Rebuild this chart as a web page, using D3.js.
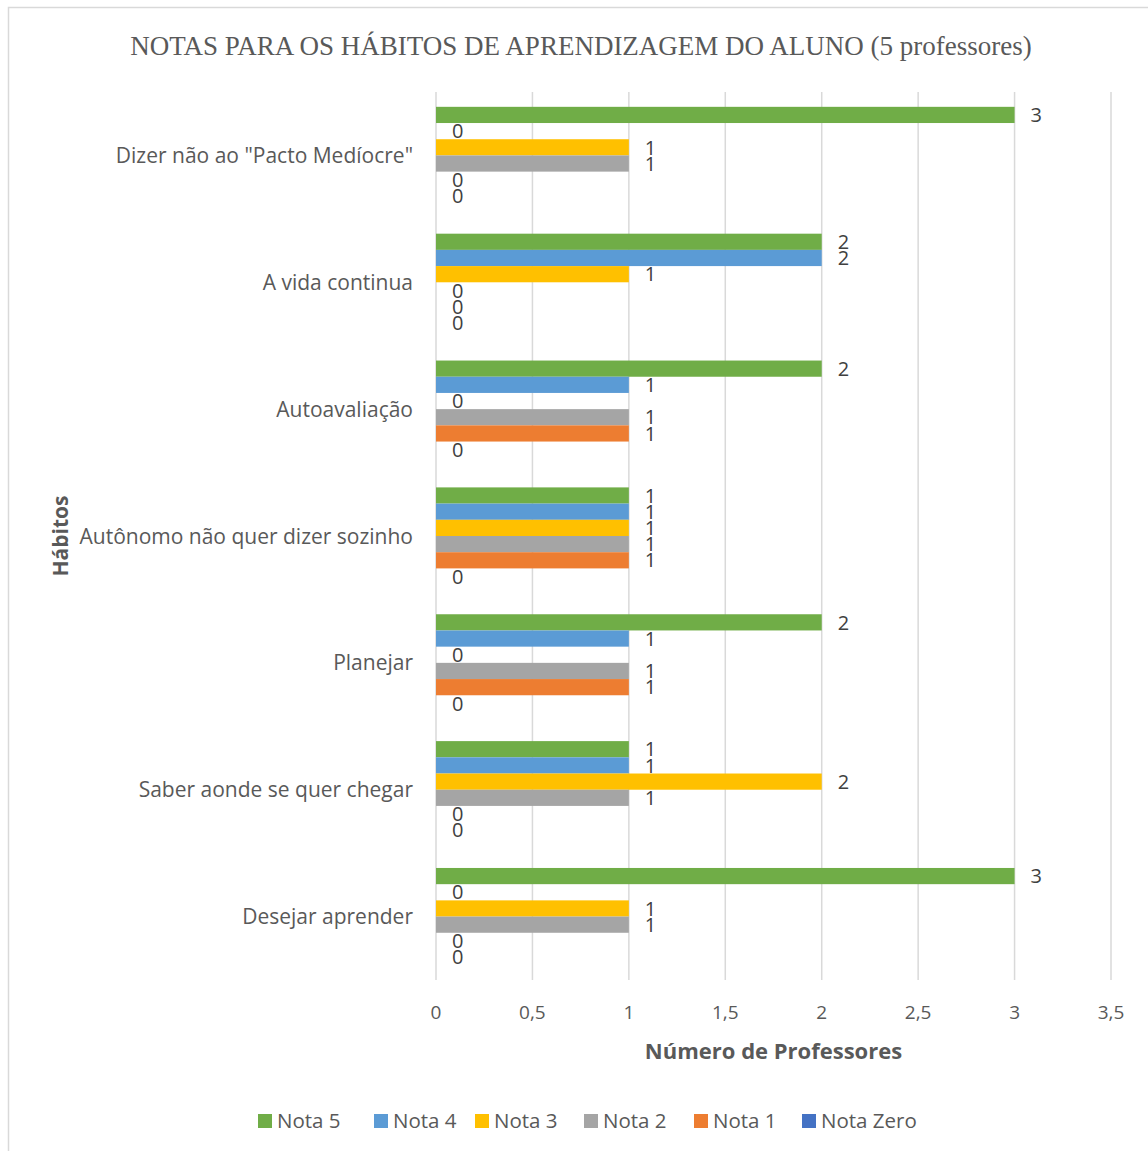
<!DOCTYPE html>
<html>
<head>
<meta charset="utf-8">
<script src="https://cdn.jsdelivr.net/npm/d3@7"></script>
<style>
  body { margin: 0; background: #fff; }
  svg { display: block; }
  text { font-family: "Open Sans", sans-serif; fill: #595959; }
</style>
</head>
<body>
<svg id="chart"></svg>
<script>
const categories = [
  'Dizer não ao "Pacto Medíocre"',
  'A vida continua',
  'Autoavaliação',
  'Autônomo não quer dizer sozinho',
  'Planejar',
  'Saber aonde se quer chegar',
  'Desejar aprender',
];
const seriesNames = ['Nota 5', 'Nota 4', 'Nota 3', 'Nota 2', 'Nota 1', 'Nota Zero'];
const seriesColors = ['#70AD47', '#5B9BD5', '#FFC000', '#A5A5A5', '#ED7D31', '#4472C4'];
const nota5 = [3, 2, 2, 1, 2, 1, 3];
const nota4 = [0, 2, 1, 1, 1, 1, 0];
const nota3 = [1, 1, 0, 1, 0, 2, 1];
const nota2 = [1, 0, 1, 1, 1, 1, 1];
const nota1 = [0, 0, 1, 1, 1, 0, 0];
const notaZero = [0, 0, 0, 0, 0, 0, 0];
const xTicks = [0, 0.5, 1, 1.5, 2, 2.5, 3, 3.5];

const WIDTH = 1148;
const HEIGHT = 1151;
const PLOT = {left: 436, right: 1111, top: 92, bottom: 980};

const seriesValues = [nota5, nota4, nota3, nota2, nota1, notaZero];
const rows = categories.map((cat, i) => ({
  category: cat,
  values: seriesNames.map((name, j) => ({name: name, value: seriesValues[j][i], color: seriesColors[j]})),
}));

const svg = d3.select('#chart').attr('width', WIDTH).attr('height', HEIGHT);

// chart border (only left/top visible in the reference)
svg.append('path')
  .attr('d', `M8.5,${HEIGHT} V7.5 H${WIDTH}`)
  .attr('fill', 'none')
  .attr('stroke', '#D9D9D9')
  .attr('stroke-width', 1.5);

const x = d3.scaleLinear().domain([0, 3.5]).range([PLOT.left, PLOT.right]);
const y = d3.scaleBand().domain(categories).range([PLOT.top, PLOT.bottom]).paddingInner(0).paddingOuter(0);
const inner = d3.scaleBand().domain(seriesNames).range([0, y.bandwidth()]).paddingOuter(0.915).paddingInner(0);

// grid
svg.append('g')
  .selectAll('line')
  .data(xTicks)
  .join('line')
  .attr('x1', (d) => x(d))
  .attr('x2', (d) => x(d))
  .attr('y1', PLOT.top)
  .attr('y2', PLOT.bottom)
  .attr('stroke', '#D9D9D9')
  .attr('stroke-width', 1.5);

// bars
const groups = svg.append('g')
  .selectAll('g')
  .data(rows)
  .join('g')
  .attr('transform', (d) => `translate(0,${y(d.category)})`);

groups.selectAll('rect')
  .data((d) => d.values)
  .join('rect')
  .attr('x', x(0))
  .attr('y', (d) => inner(d.name))
  .attr('width', (d) => x(d.value) - x(0))
  .attr('height', inner.bandwidth())
  .attr('fill', (d) => d.color);

groups.selectAll('text')
  .data((d) => d.values)
  .join('text')
  .attr('x', (d) => x(d.value) + 16)
  .attr('y', (d) => inner(d.name) + inner.bandwidth() / 2)
  .attr('dy', '0.36em')
  .style('font-size', '20px')
  .style('fill', '#404040')
  .text((d) => d.value);

// category labels
svg.append('g')
  .selectAll('text')
  .data(categories)
  .join('text')
  .attr('x', PLOT.left - 23)
  .attr('y', (d) => y(d) + y.bandwidth() / 2)
  .attr('dy', '0.36em')
  .attr('text-anchor', 'end')
  .style('font-size', '21px')
  .text((d) => d);

// x axis tick labels
svg.append('g')
  .selectAll('text')
  .data(xTicks)
  .join('text')
  .attr('x', (d) => x(d))
  .attr('y', 1012)
  .attr('dy', '0.36em')
  .attr('text-anchor', 'middle')
  .style('font-size', '19px')
  .text((d) => String(d).replace('.', ','));

// axis titles
svg.append('text')
  .attr('x', (PLOT.left + PLOT.right) / 2)
  .attr('y', 1051)
  .attr('dy', '0.36em')
  .attr('text-anchor', 'middle')
  .style('font-size', '22px')
  .style('font-weight', 'bold')
  .text('Número de Professores');

svg.append('text')
  .attr('transform', `translate(60,${(PLOT.top + PLOT.bottom) / 2}) rotate(-90)`)
  .attr('dy', '0.36em')
  .attr('text-anchor', 'middle')
  .style('font-size', '21px')
  .style('font-weight', 'bold')
  .text('Hábitos');

// title
svg.append('text')
  .attr('x', 581)
  .attr('y', 45)
  .attr('dy', '0.36em')
  .attr('text-anchor', 'middle')
  .style('font-family', '"Liberation Serif", "Times New Roman", serif')
  .style('font-size', '27px')
  .text('NOTAS PARA OS HÁBITOS DE APRENDIZAGEM DO ALUNO (5 professores)');

// legend
const legendX = [258, 374, 475, 584, 694, 802];
const legend = svg.append('g')
  .selectAll('g')
  .data(seriesNames)
  .join('g')
  .attr('transform', (d, i) => `translate(${legendX[i]},1121)`);

legend.append('rect')
  .attr('x', 0)
  .attr('y', -7)
  .attr('width', 14)
  .attr('height', 14)
  .attr('fill', (d, i) => seriesColors[i]);

legend.append('text')
  .attr('x', 19)
  .attr('y', 0)
  .attr('dy', '0.36em')
  .style('font-size', '20.5px')
  .text((d) => d);
</script>
</body>
</html>
